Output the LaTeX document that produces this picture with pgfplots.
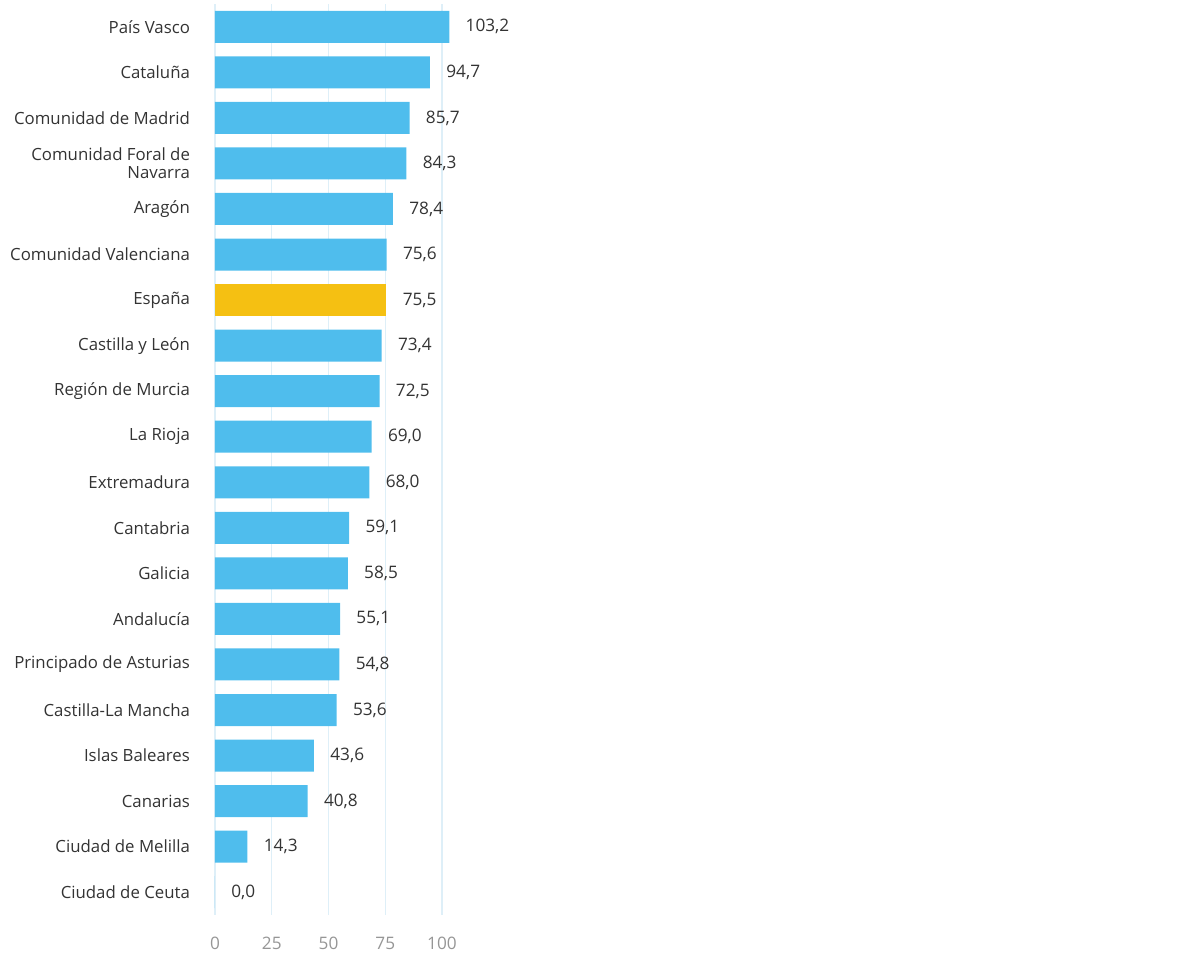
\documentclass[border=0pt]{standalone}
\usepackage{pgfplots}
\pgfplotsset{compat=1.18}
\usepackage{fontspec}
\setmainfont{Open Sans}
\definecolor{barblue}{RGB}{79,189,237}
\definecolor{baryellow}{RGB}{245,192,18}
\definecolor{gridc}{RGB}{222,239,248}
\definecolor{txt}{RGB}{51,51,51}
\definecolor{tickc}{RGB}{150,150,150}
\begin{document}
\begin{tikzpicture}
\path[use as bounding box] (0,0) rectangle (590pt,480pt);
\begin{axis}[
  at={(107.5pt,22.5pt)}, anchor=south west,
  scale only axis, width=124.85pt, height=455.5pt,
  xmin=0, xmax=110, ymin=-0.5, ymax=19.5,
  y dir=reverse,
  xbar, bar width=16pt, bar shift=0pt,
  axis line style={draw=none},
  major tick length=0pt,
  xtick={0,25,50,75,100},
  xmajorgrids, grid style={gridc, line width=0.6pt},
  ytick={0,...,19},
  yticklabels={Pa\'is Vasco, Catalu\~na, Comunidad de Madrid, {Comunidad Foral de\\Navarra}, Arag\'on, Comunidad Valenciana, Espa\~na, Castilla y Le\'on, Regi\'on de Murcia, La Rioja, Extremadura, Cantabria, Galicia, Andaluc\'ia, Principado de Asturias, Castilla-La Mancha, Islas Baleares, Canarias, Ciudad de Melilla, Ciudad de Ceuta},
  yticklabel style={font=\fontsize{8.4}{9}\selectfont, text=txt, align=right, xshift=-9pt},
  xticklabel style={font=\fontsize{8.6}{9}\selectfont, text=tickc, yshift=-7.5pt},
  /pgf/number format/assume math mode=true,
  nodes near coords,
  nodes near coords style={font=\fontsize{8.6}{9}\selectfont, text=txt, anchor=west, inner sep=0pt, xshift=8pt,
    /pgf/number format/.cd, fixed, fixed zerofill, precision=1, use comma, assume math mode=true},
]
\addplot[fill=barblue, draw=none] coordinates {
(103.2,0) (94.7,1) (85.7,2) (84.3,3) (78.4,4) (75.6,5)
(73.4,7) (72.5,8) (69.0,9) (68.0,10) (59.1,11) (58.5,12) (55.1,13)
(54.8,14) (53.6,15) (43.6,16) (40.8,17) (14.3,18) (0.0,19)};
\addplot[fill=baryellow, draw=none] coordinates {(75.5,6)};
\end{axis}
\end{tikzpicture}
\end{document}
